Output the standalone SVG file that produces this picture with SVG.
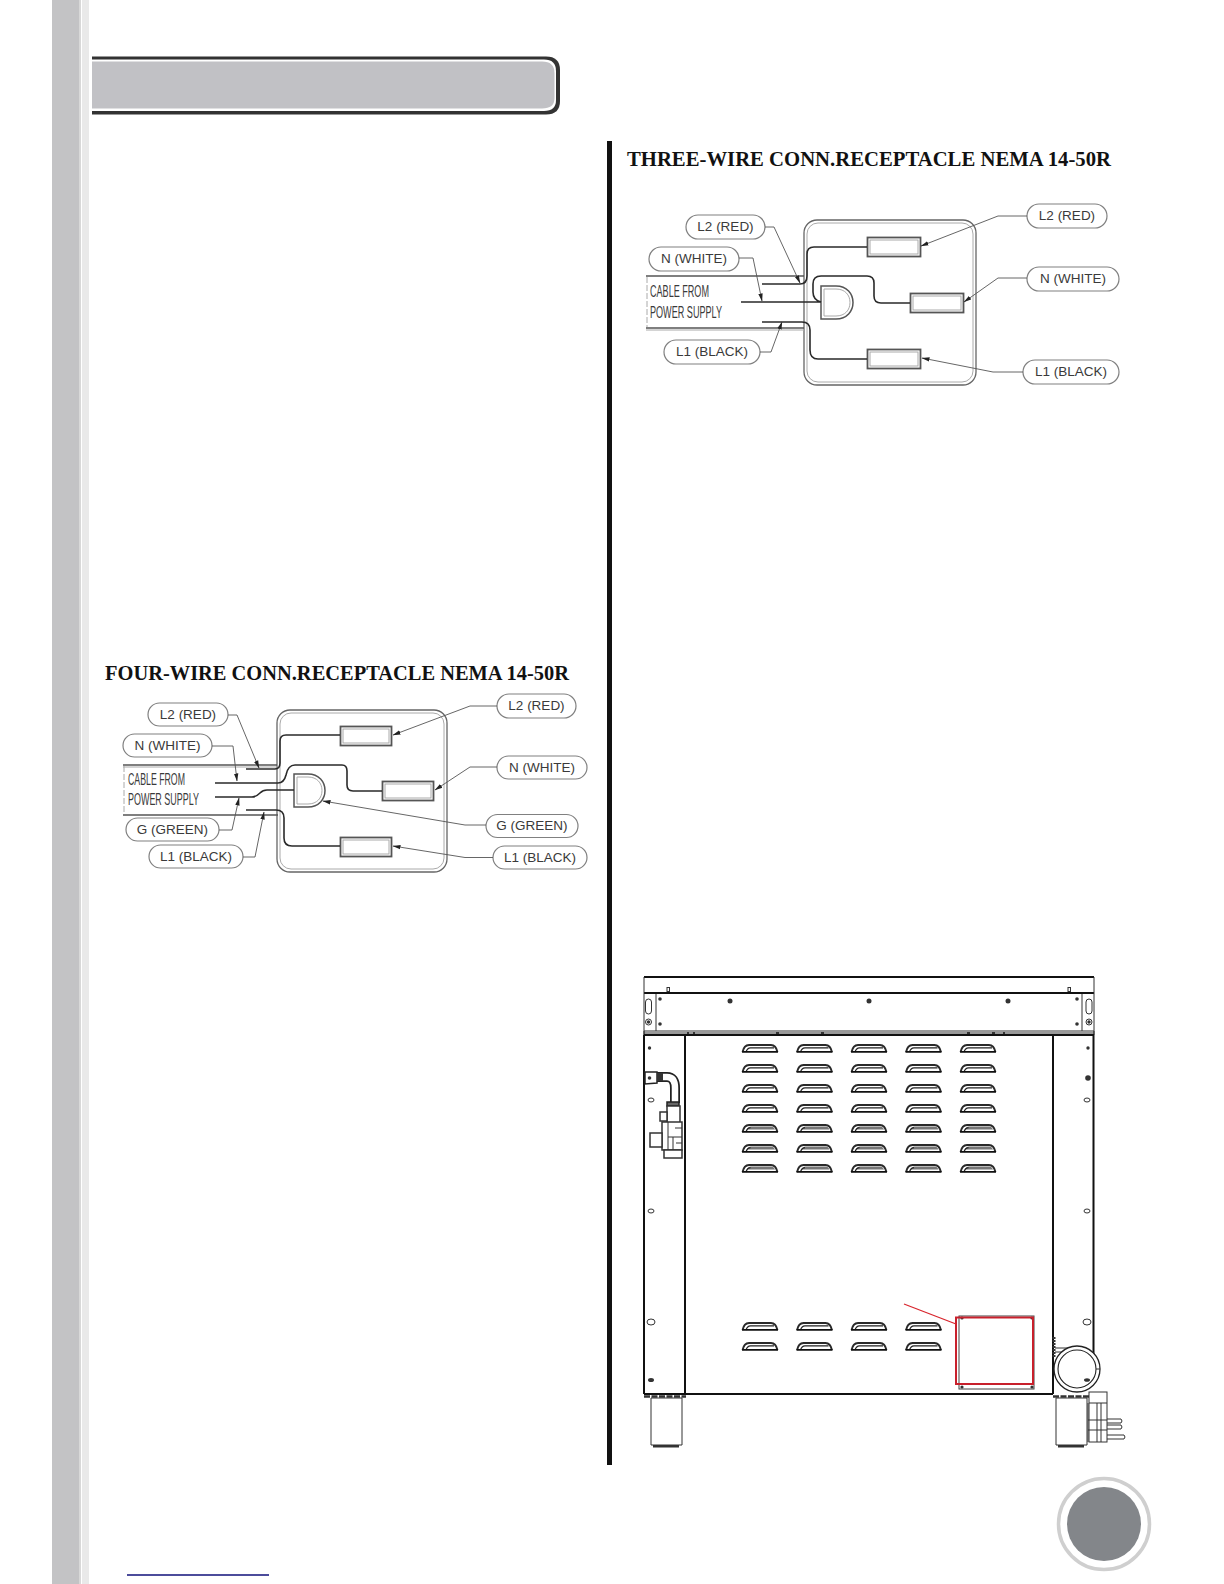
<svg xmlns="http://www.w3.org/2000/svg" xmlns:xlink="http://www.w3.org/1999/xlink" width="1224" height="1584" viewBox="0 0 1224 1584">
<style>
.title{font-family:"Liberation Serif","Times New Roman",serif;font-weight:bold;font-size:20px;fill:#111}
.lbl{font-family:"Liberation Sans",Arial,sans-serif;font-size:13.5px;fill:#3a3a3a;text-anchor:middle;transform:translateY(-.8px)}
.cab{font-family:"Liberation Sans",Arial,sans-serif;font-size:17px;fill:#3a3a3a}
.pill{fill:#fff;stroke:#808080;stroke-width:1.2}
.wire{fill:none;stroke:#2a2a2a;stroke-width:1.6}
.cable{fill:none;stroke:#555;stroke-width:1.3}
.lead{fill:none;stroke:#555;stroke-width:.9;marker-end:url(#ah)}
.boxo{fill:none;stroke:#666;stroke-width:1.3}
.boxi{fill:none;stroke:#aaa;stroke-width:1}
.term{fill:#fff;stroke:#555;stroke-width:1.8}
.termi{fill:none;stroke:#aaa;stroke-width:1}
.k{fill:none;stroke:#111;stroke-width:2}
.t{fill:none;stroke:#333;stroke-width:1}
.f{fill:#fff;stroke:#333;stroke-width:1}
.d{fill:#333}
</style>
<defs>
<marker id="ah" markerUnits="userSpaceOnUse" markerWidth="8" markerHeight="6" refX="7.5" refY="3" orient="auto"><path d="M0 .8L8 3L0 5.2z" fill="#222"/></marker>
<g id="lv"><path d="M.6 8C1.5 3.5 3.5 .9 7 .9H29C32.500 .9 34.500 3.500 35.400 8" fill="#fff" stroke="#2a2a2a" stroke-width="2"/><path d="M4 8C4.700 5.600 6 3.800 8.500 3.800H32" fill="none" stroke="#222" stroke-width="1.300"/><path d="M0 7.800H36" stroke="#111" stroke-width="1.800"/></g>
<g id="lvs"><path d="M.6 8C1.5 3.5 3.5 .9 7 .9H29C32.500 .9 34.500 3.500 35.400 8" fill="#fff" stroke="#2a2a2a" stroke-width="2"/><path d="M5 5.500C5.500 3.800 7 2.500 9 2.500H29C31 2.500 32 3.800 33 5.500z" fill="#777"/><path d="M4 8C4.700 5.600 6 3.800 8.500 3.600" fill="none" stroke="#222" stroke-width="1.300"/><path d="M0 7.800H36" stroke="#111" stroke-width="1.800"/></g>
</defs>
<rect width="1224" height="1584" fill="#fff"/>
<g id="sidebar"><rect x="52" y="0" width="27" height="1584" fill="#c3c3c5"/><rect x="79" y="0" width="2" height="1584" fill="#d8d8d8"/><rect x="82" y="0" width="7" height="1584" fill="#e9e9e9"/></g>
<g id="header">
<path d="M92 56.500H546Q560 56.500 560 70V101Q560 114.500 546 114.500H92z" fill="#333"/>
<path d="M92 59.500H544Q556 59.500 556 71V100Q556 111 544 111H92z" fill="#fff"/>
<path d="M92 61.500H542Q554.500 61.500 554.500 73V98Q554.500 108.500 542 108.500H92z" fill="#c1c1c5"/>
</g>
<rect id="divider" x="607" y="141" width="5" height="1324" fill="#111"/>
<g id="page-badge"><circle cx="1104" cy="1524" r="45.500" fill="#fff" stroke="#cfcfcf" stroke-width="3.500"/><circle cx="1104" cy="1524" r="37" fill="#83868a"/></g>
<path id="link-rule" d="M127 1575H269" stroke="#10107a" stroke-width="1.500"/>

<text id="title-four" class="title" x="105" y="680" textLength="464" lengthAdjust="spacingAndGlyphs">FOUR-WIRE CONN.RECEPTACLE NEMA 14-50R</text>
<g id="receptacle-four">
<rect class="boxo" x="277" y="710" width="170" height="162" rx="13"/><rect class="boxi" x="280" y="713" width="164" height="156" rx="11"/>
<rect class="term" x="340.500" y="726.500" width="51" height="19"/><rect class="termi" x="343" y="729" width="46" height="14"/>
<rect class="term" x="382.500" y="781.500" width="51" height="19"/><rect class="termi" x="385" y="784" width="46" height="14"/>
<rect class="term" x="340.500" y="837.500" width="51" height="19"/><rect class="termi" x="343" y="840" width="46" height="14"/>
<path d="M294 774H308C319 774 325 782 325 790.500S319 807 308 807H294z" fill="#fff" stroke="#555" stroke-width="1.500"/>
<path d="M297 777H308C317 777 322 783 322 790.500S317 804 308 804H297z" fill="none" stroke="#aaa" stroke-width="1"/>
</g>
<g id="cable-four">
<path class="cable" d="M123 765H277M123 815H278"/><path class="boxi" d="M123 767H277"/>
<path class="boxi" d="M124 766V814" stroke-dasharray="6 2" stroke="#777"/>
<text class="cab" x="128" y="785" textLength="57" lengthAdjust="spacingAndGlyphs">CABLE FROM</text>
<text class="cab" x="128" y="805" textLength="71" lengthAdjust="spacingAndGlyphs">POWER SUPPLY</text>
</g>
<g id="labels-four">
<g id="four-l2-left"><rect class="pill" x="148" y="703" width="80" height="23" rx="11.500"/><text class="lbl" x="188" y="720">L2 (RED)</text></g>
<g id="four-n-left"><rect class="pill" x="123" y="734" width="89" height="23" rx="11.500"/><text class="lbl" x="167.500" y="750.500">N (WHITE)</text></g>
<g id="four-g-left"><rect class="pill" x="126" y="818" width="93" height="23" rx="11.500"/><text class="lbl" x="172.500" y="834.500">G (GREEN)</text></g>
<g id="four-l1-left"><rect class="pill" x="149" y="845" width="94" height="23" rx="11.500"/><text class="lbl" x="196" y="861.500">L1 (BLACK)</text></g>
<g id="four-l2-right"><rect class="pill" x="497" y="694" width="79" height="24" rx="12"/><text class="lbl" x="536.500" y="711">L2 (RED)</text></g>
<g id="four-n-right"><rect class="pill" x="497" y="756" width="90" height="23" rx="11.500"/><text class="lbl" x="542" y="772.500">N (WHITE)</text></g>
<g id="four-g-right"><rect class="pill" x="486" y="814.500" width="92" height="23" rx="11.500"/><text class="lbl" x="532" y="831">G (GREEN)</text></g>
<g id="four-l1-right"><rect class="pill" x="493" y="846" width="94" height="23" rx="11.500"/><text class="lbl" x="540" y="862.500">L1 (BLACK)</text></g>
</g>
<g id="connectors-four">
<path class="wire" d="M246 769H275Q280 769 280 763V741Q280 735 286 735H340"/>
<path class="wire" d="M215 783H278Q284 783 286 775Q288 765 295 765H342Q347 765 347 771V785Q347 791 353 791H382"/>
<path class="wire" d="M215 797H252Q256 797 260 793Q263 790 267 790H294"/>
<path class="wire" d="M246 810H276Q284 810 284 818V838Q284 846 292 846H340"/>
<path class="lead" d="M228 715H237L259 768"/>
<path class="lead" d="M212 746H233L237 781"/>
<path class="lead" d="M219 830H232L239 798"/>
<path class="lead" d="M243 857H255L264 812"/>
<path class="lead" d="M497 706H470L393 735"/>
<path class="lead" d="M497 767H470L435 790"/>
<path class="lead" d="M486 825H465L323 801"/>
<path class="lead" d="M493 857.500H465L393 846"/>
</g>

<text id="title-three" class="title" x="627" y="166" textLength="484" lengthAdjust="spacingAndGlyphs">THREE-WIRE CONN.RECEPTACLE NEMA 14-50R</text>
<g id="receptacle-three">
<rect class="boxo" x="804" y="220" width="172" height="165" rx="13"/><rect class="boxi" x="807" y="223" width="166" height="159" rx="11"/>
<rect class="term" x="867.500" y="237.500" width="53" height="19"/><rect class="termi" x="870" y="240" width="48" height="14"/>
<rect class="term" x="910.500" y="293.500" width="53" height="19"/><rect class="termi" x="913" y="296" width="48" height="14"/>
<rect class="term" x="867.500" y="349.500" width="53" height="19"/><rect class="termi" x="870" y="352" width="48" height="14"/>
<path d="M821 286H836C847 286 853 294 853 302.500S847 319 836 319H821z" fill="#fff" stroke="#555" stroke-width="1.500"/>
<path d="M824 289H836C845 289 850 295 850 302.500S845 316 836 316H824z" fill="none" stroke="#aaa" stroke-width="1"/>
</g>
<g id="cable-three">
<path class="cable" d="M646 276H804M646 328H804"/><path class="boxi" d="M646 330H804"/>
<path class="boxi" d="M647 277V327" stroke-dasharray="6 2" stroke="#777"/>
<text class="cab" x="650" y="297" textLength="59" lengthAdjust="spacingAndGlyphs">CABLE FROM</text>
<text class="cab" x="650" y="318" textLength="72" lengthAdjust="spacingAndGlyphs">POWER SUPPLY</text>
</g>
<g id="labels-three">
<g id="three-l2-left"><rect class="pill" x="686" y="215" width="79" height="24" rx="12"/><text class="lbl" x="725.500" y="232">L2 (RED)</text></g>
<g id="three-n-left"><rect class="pill" x="649" y="247" width="90" height="24" rx="12"/><text class="lbl" x="694" y="264">N (WHITE)</text></g>
<g id="three-l1-left"><rect class="pill" x="664" y="340" width="96" height="24" rx="12"/><text class="lbl" x="712" y="357">L1 (BLACK)</text></g>
<g id="three-l2-right"><rect class="pill" x="1027" y="204" width="80" height="24" rx="12"/><text class="lbl" x="1067" y="221">L2 (RED)</text></g>
<g id="three-n-right"><rect class="pill" x="1027" y="267" width="92" height="24" rx="12"/><text class="lbl" x="1073" y="284">N (WHITE)</text></g>
<g id="three-l1-right"><rect class="pill" x="1023" y="360" width="96" height="24" rx="12"/><text class="lbl" x="1071" y="377">L1 (BLACK)</text></g>
</g>
<g id="connectors-three">
<path class="wire" d="M762 284H800Q807 284 807 276V254Q807 247 814 247H867"/>
<path class="wire" d="M741 302H821Q813 300 813 292V284Q813 276 821 276H867Q874 276 874 283V296Q874 303 881 303H910"/>
<path class="wire" d="M762 322H802Q810 322 810 330V350Q810 359 818 359H867"/>
<path class="lead" d="M765 227H774L800 283"/>
<path class="lead" d="M739 258H753L762 301"/>
<path class="lead" d="M760 352H771L782 322"/>
<path class="lead" d="M1027 216H998L921 246"/>
<path class="lead" d="M1027 278H998L964 302"/>
<path class="lead" d="M1023 372H993L922 358"/>
</g>

<g id="oven">
<path class="t" d="M656 993V1031M1082 993V1031M644 1035V1031M1094 1035V1031" stroke="#555"/>
<path class="k" d="M644 977H1094M644 993H1094"/>
<path class="t" d="M644 977V1035M1094 977V1035M644 1031H1094" stroke-width="1.300"/>
<path class="t" d="M644 1033H1094" stroke="#888"/>
<path class="k" d="M644 1035H1094M644 1035V1394M685 1035V1394M1053 1035V1394M1093.500 1035V1360M644 1394H1053" stroke-width="2"/>
<path d="M644 1396.500H686M1053 1396.500H1090" stroke="#333" stroke-width="2.500" stroke-dasharray="6 1.500"/>
<path class="f" d="M651 1398H682V1445H651z"/><rect x="653" y="1445" width="26" height="2.500" class="d"/>
<path class="f" d="M1056 1398H1087V1445H1056z"/><rect x="1058" y="1445" width="26" height="2.500" class="d"/>
<g id="louvers">
<use href="#lv" x="742" y="1044"/><use href="#lv" x="796.500" y="1044"/><use href="#lv" x="851" y="1044"/><use href="#lv" x="905.500" y="1044"/><use href="#lv" x="960" y="1044"/>
<use href="#lv" x="742" y="1064"/><use href="#lv" x="796.500" y="1064"/><use href="#lv" x="851" y="1064"/><use href="#lv" x="905.500" y="1064"/><use href="#lv" x="960" y="1064"/>
<use href="#lv" x="742" y="1084"/><use href="#lv" x="796.500" y="1084"/><use href="#lv" x="851" y="1084"/><use href="#lv" x="905.500" y="1084"/><use href="#lv" x="960" y="1084"/>
<use href="#lv" x="742" y="1104"/><use href="#lv" x="796.500" y="1104"/><use href="#lv" x="851" y="1104"/><use href="#lv" x="905.500" y="1104"/><use href="#lv" x="960" y="1104"/>
<use href="#lvs" x="742" y="1124"/><use href="#lvs" x="796.500" y="1124"/><use href="#lvs" x="851" y="1124"/><use href="#lvs" x="905.500" y="1124"/><use href="#lvs" x="960" y="1124"/>
<use href="#lvs" x="742" y="1144"/><use href="#lvs" x="796.500" y="1144"/><use href="#lvs" x="851" y="1144"/><use href="#lvs" x="905.500" y="1144"/><use href="#lvs" x="960" y="1144"/>
<use href="#lvs" x="742" y="1164"/><use href="#lvs" x="796.500" y="1164"/><use href="#lvs" x="851" y="1164"/><use href="#lvs" x="905.500" y="1164"/><use href="#lvs" x="960" y="1164"/>
<use href="#lv" x="742" y="1322"/><use href="#lv" x="796.500" y="1322"/><use href="#lv" x="851" y="1322"/><use href="#lv" x="905.500" y="1322"/>
<use href="#lv" x="742" y="1342"/><use href="#lv" x="796.500" y="1342"/><use href="#lv" x="851" y="1342"/><use href="#lv" x="905.500" y="1342"/>
</g>
<g id="screws">
<circle class="d" cx="730" cy="1001" r="2.500"/><circle class="d" cx="869" cy="1001" r="2.500"/><circle class="d" cx="1008" cy="1001" r="2.500"/>
<circle class="d" cx="660" cy="999" r="1.800"/><circle class="d" cx="660" cy="1024" r="1.800"/><circle class="d" cx="1077" cy="999" r="1.800"/><circle class="d" cx="1077" cy="1024" r="1.800"/>
<rect class="f" x="667" y="987.500" width="2.500" height="4"/><rect class="f" x="1068" y="987.500" width="2.500" height="4"/>
<rect class="f" x="645.500" y="999" width="6" height="15" rx="3"/><rect class="f" x="1086" y="999" width="6" height="15" rx="3"/>
<circle class="f" cx="648.500" cy="1022" r="3"/><circle class="d" cx="648.500" cy="1022" r="1.700"/><circle class="f" cx="1089" cy="1022" r="3"/><circle class="d" cx="1089" cy="1022" r="1.700"/>
<circle class="d" cx="649.500" cy="1048" r="1.700"/><circle class="d" cx="1088" cy="1048" r="1.700"/>
<circle class="d" cx="1088" cy="1078" r="2.800"/>
<ellipse class="f" cx="651" cy="1100" rx="3" ry="2"/><ellipse class="f" cx="1087" cy="1100" rx="3" ry="2"/>
<ellipse class="f" cx="651" cy="1211" rx="3" ry="2"/><ellipse class="f" cx="1087" cy="1211" rx="3" ry="2"/>
<ellipse class="f" cx="651" cy="1322" rx="4" ry="3"/><ellipse class="f" cx="1087" cy="1322" rx="4" ry="3"/>
<ellipse class="d" cx="651" cy="1380" rx="3" ry="2"/>
<path d="M687 1033h2M693 1033h2M776 1033h3M821 1033h3M967 1033h3M992 1033h3M1003 1033h2" stroke="#333" stroke-width="2"/>
</g>
<g id="gas-fitting">
<path d="M645 1072H657V1083L645 1084z" fill="#fff" stroke="#222" stroke-width="1.500"/><circle class="d" cx="649.500" cy="1078" r="1.800"/>
<path d="M657 1077H667Q675 1077 675 1088V1103" fill="none" stroke="#222" stroke-width="10"/>
<path d="M657 1077H667Q675 1077 675 1088V1103" fill="none" stroke="#fff" stroke-width="6.500"/>
<rect x="657" y="1073" width="6" height="8" class="d"/>
<rect x="667" y="1102" width="12" height="4" fill="#666" stroke="#222" stroke-width="1.500"/>
<g stroke-width="1.500">
<rect class="f" x="667" y="1106" width="13" height="17" style="stroke-width:1.500"/>
<rect class="f" x="660" y="1112" width="7" height="9" style="stroke-width:1.500"/>
<rect class="f" x="662" y="1122" width="20" height="28" style="stroke-width:1.500"/>
<rect class="f" x="650" y="1133" width="12" height="14" style="stroke-width:1.500"/>
<rect class="f" x="664" y="1150" width="18" height="8" style="stroke-width:1.500"/>
</g>
<path class="t" d="M668 1122V1150M675 1128H682M668 1137H682M673 1137V1150M676 1143H682"/>
</g>
<g id="access-panel">
<rect x="959" y="1316" width="75" height="73" fill="#fff" stroke="#444" stroke-width="1"/>
<circle class="d" cx="962" cy="1318" r="1.600"/><circle class="d" cx="1032" cy="1318" r="1.600"/><circle class="d" cx="962" cy="1387" r="1.600"/><circle class="d" cx="1032" cy="1387" r="1.600"/>
<rect x="956" y="1317.500" width="77" height="66.500" fill="none" stroke="#c8202c" stroke-width="2"/>
<path d="M904 1304L956 1324" stroke="#d8242c" stroke-width="1.200"/>
</g>
<g id="power-cord">
<path class="t" d="M1055 1348H1072M1055 1352H1068"/><path d="M1054 1337V1358" stroke="#333" stroke-width="3" stroke-dasharray="2 1"/>
<circle cx="1077" cy="1369" r="23" fill="#fff" stroke="#222" stroke-width="1.300"/><circle cx="1077" cy="1369" r="19" fill="#fff" stroke="#222" stroke-width="1.100"/>
<ellipse class="d" cx="1087" cy="1380" rx="3" ry="1.800"/>
<path class="t" d="M1096 1369H1100"/>
<rect class="f" x="1089" y="1392" width="18" height="50"/>
<path class="t" d="M1089 1403H1107M1088 1420H1107M1088 1430H1107M1097 1403V1442M1101 1403V1442M1088 1403V1442"/>
<path class="t" d="M1107 1419H1121Q1123 1421 1121 1423H1107M1107 1425H1121Q1123 1427 1121 1429H1107M1107 1435H1124Q1126 1437 1124 1439H1107"/>
</g>
</g>
</svg>
